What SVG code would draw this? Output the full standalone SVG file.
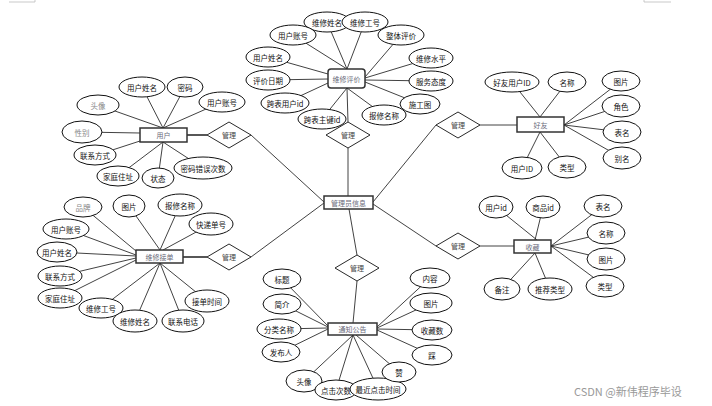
<svg xmlns="http://www.w3.org/2000/svg" width="712" height="406" viewBox="0 0 712 406">
<style>
.bg{fill:#fff}
.ln{stroke:#111;stroke-width:0.8;fill:none}
.thick{stroke:#444;stroke-width:1.8;fill:none}
.el{fill:#fff;stroke:#111;stroke-width:1}
.ent{fill:#fff;stroke:#333;stroke-width:1.5}
.dia{fill:#fff;stroke:#111;stroke-width:0.9}
text{font-family:"Noto Sans CJK SC","Noto Sans",sans-serif;text-anchor:middle;dominant-baseline:central}
.t{font-size:7.5px;fill:#111}
.g{font-size:7.5px;fill:#888}
.et{font-size:7px;fill:#6b6b7b}
.dt{font-size:7px;fill:#444}
.wm{font-size:11px;fill:#999;text-anchor:start;dominant-baseline:alphabetic}
.cm{stroke:#bbb;stroke-width:0.8;fill:none}
</style>
<rect class="bg" x="0" y="0" width="712" height="406"/>
<polyline class="cm" points="9,2 35,2 35,0"/>
<polyline class="cm" points="644,0 644,2 671,2"/>

<g id="connectors">
  <!-- admin to diamonds -->
  <line class="ln" x1="251" y1="135" x2="324" y2="202"/>
  <line class="ln" x1="251" y1="257" x2="324" y2="203"/>
  <line class="ln" x1="348" y1="148" x2="348" y2="196"/>
  <line class="ln" x1="436" y1="125" x2="373" y2="202"/>
  <line class="ln" x1="436" y1="246" x2="373" y2="204"/>
  <line class="ln" x1="357" y1="255" x2="349" y2="209"/>
  <!-- diamonds to entities -->
  <line class="thick" x1="187" y1="135" x2="207" y2="135"/>
  <line class="ln" x1="347" y1="88" x2="348" y2="122"/>
  <line class="ln" x1="517" y1="125" x2="480" y2="125"/>
  <line class="thick" x1="183" y1="257" x2="207" y2="257"/>
  <line class="ln" x1="514" y1="246" x2="480" y2="246"/>
  <line class="ln" x1="353" y1="323" x2="357" y2="281"/>
  <!-- 维修评价 attributes -->
  <line class="ln" x1="327" y1="22" x2="347" y2="69"/>
  <line class="ln" x1="365" y1="22" x2="347" y2="69"/>
  <line class="ln" x1="401" y1="35" x2="365" y2="77"/>
  <line class="ln" x1="431" y1="58" x2="365" y2="78"/>
  <line class="ln" x1="431" y1="81" x2="365" y2="80"/>
  <line class="ln" x1="420" y1="104" x2="365" y2="82"/>
  <line class="ln" x1="384" y1="115" x2="347" y2="88"/>
  <line class="ln" x1="322" y1="119" x2="347" y2="88"/>
  <line class="ln" x1="285" y1="103" x2="328" y2="83"/>
  <line class="ln" x1="268" y1="80" x2="328" y2="79"/>
  <line class="ln" x1="268" y1="57" x2="328" y2="74"/>
  <line class="ln" x1="293" y1="35" x2="347" y2="69"/>
  <!-- 用户 attributes -->
  <line class="ln" x1="98" y1="105" x2="163" y2="128"/>
  <line class="ln" x1="142" y1="87" x2="163" y2="128"/>
  <line class="ln" x1="185" y1="87" x2="163" y2="128"/>
  <line class="ln" x1="222" y1="102" x2="163" y2="128"/>
  <line class="ln" x1="82" y1="132" x2="140" y2="133"/>
  <line class="ln" x1="97" y1="155" x2="140" y2="141"/>
  <line class="ln" x1="118" y1="176" x2="163" y2="142"/>
  <line class="ln" x1="158" y1="178" x2="163" y2="142"/>
  <line class="ln" x1="203" y1="168" x2="163" y2="142"/>
  <!-- 好友 attributes -->
  <line class="ln" x1="512" y1="82" x2="540" y2="117"/>
  <line class="ln" x1="567" y1="82" x2="540" y2="117"/>
  <line class="ln" x1="621" y1="81" x2="564" y2="125"/>
  <line class="ln" x1="621" y1="106" x2="564" y2="125"/>
  <line class="ln" x1="622" y1="132" x2="564" y2="125"/>
  <line class="ln" x1="622" y1="158" x2="564" y2="125"/>
  <line class="ln" x1="522" y1="168" x2="540" y2="132"/>
  <line class="ln" x1="567" y1="167" x2="540" y2="132"/>
  <!-- 维修接单 attributes -->
  <line class="ln" x1="83" y1="207" x2="136" y2="251"/>
  <line class="ln" x1="129" y1="206" x2="160" y2="250"/>
  <line class="ln" x1="180" y1="205" x2="160" y2="250"/>
  <line class="ln" x1="211" y1="224" x2="163" y2="250"/>
  <line class="ln" x1="66" y1="229" x2="136" y2="255"/>
  <line class="ln" x1="57" y1="252" x2="136" y2="256"/>
  <line class="ln" x1="60" y1="276" x2="136" y2="258"/>
  <line class="ln" x1="60" y1="298" x2="136" y2="260"/>
  <line class="ln" x1="101" y1="308" x2="160" y2="263"/>
  <line class="ln" x1="135" y1="321" x2="160" y2="263"/>
  <line class="ln" x1="183" y1="321" x2="160" y2="263"/>
  <line class="ln" x1="207" y1="301" x2="160" y2="263"/>
  <!-- 收藏 attributes -->
  <line class="ln" x1="496" y1="207" x2="537" y2="240"/>
  <line class="ln" x1="543" y1="207" x2="535" y2="240"/>
  <line class="ln" x1="603" y1="206" x2="551" y2="246"/>
  <line class="ln" x1="606" y1="233" x2="551" y2="246"/>
  <line class="ln" x1="606" y1="259" x2="551" y2="246"/>
  <line class="ln" x1="605" y1="286" x2="551" y2="246"/>
  <line class="ln" x1="502" y1="289" x2="535" y2="253"/>
  <line class="ln" x1="550" y1="289" x2="535" y2="253"/>
  <!-- 通知公告 attributes -->
  <line class="ln" x1="282" y1="279" x2="328" y2="326"/>
  <line class="ln" x1="282" y1="304" x2="328" y2="327"/>
  <line class="ln" x1="279" y1="329" x2="328" y2="328"/>
  <line class="ln" x1="281" y1="352" x2="328" y2="329"/>
  <line class="ln" x1="304" y1="381" x2="353" y2="335"/>
  <line class="ln" x1="336" y1="390" x2="353" y2="335"/>
  <line class="ln" x1="378" y1="389" x2="353" y2="335"/>
  <line class="ln" x1="399" y1="372" x2="356" y2="335"/>
  <line class="ln" x1="432" y1="355" x2="377" y2="330"/>
  <line class="ln" x1="432" y1="330" x2="377" y2="329"/>
  <line class="ln" x1="431" y1="303" x2="377" y2="328"/>
  <line class="ln" x1="430" y1="278" x2="377" y2="327"/>
</g>

<!-- relationship diamonds -->
<g id="rel-user"><polygon class="dia" points="229,122 251,135 229,148 207,135"/><text class="dt" x="229" y="135">管理</text></g>
<g id="rel-review"><polygon class="dia" points="348,122 370,135 348,148 326,135"/><text class="dt" x="348" y="135">管理</text></g>
<g id="rel-friend"><polygon class="dia" points="458,112 480,125 458,138 436,125"/><text class="dt" x="458" y="125">管理</text></g>
<g id="rel-order"><polygon class="dia" points="229,244 251,257 229,270 207,257"/><text class="dt" x="229" y="257">管理</text></g>
<g id="rel-fav"><polygon class="dia" points="458,233 480,246 458,259 436,246"/><text class="dt" x="458" y="246">管理</text></g>
<g id="rel-notice"><polygon class="dia" points="357,255 379,268 357,281 335,268"/><text class="dt" x="357" y="268">管理</text></g>

<!-- entities -->
<g id="admin"><rect class="ent" x="324" y="196" width="49" height="13"/><text class="et" x="348.5" y="202.5">管理员信息</text></g>
<g id="user"><rect class="ent" x="140" y="128" width="47" height="14"/><text class="et" x="163.5" y="135">用户</text></g>
<g id="review"><rect class="ent" x="328" y="69" width="37" height="19" rx="3"/><text class="et" x="346.5" y="78.5">维修评价</text></g>
<g id="friend"><rect class="ent" x="517" y="117" width="47" height="15"/><text class="et" x="540.5" y="124.5">好友</text></g>
<g id="order"><rect class="ent" x="136" y="250" width="47" height="13"/><text class="et" x="159.5" y="256.5">维修接单</text></g>
<g id="fav"><rect class="ent" x="514" y="240" width="37" height="13"/><text class="et" x="532.5" y="246.5">收藏</text></g>
<g id="notice"><rect class="ent" x="328" y="323" width="49" height="12"/><text class="et" x="352.5" y="329">通知公告</text></g>

<!-- 维修评价 attributes -->
<g id="r-name"><ellipse class="el" cx="327" cy="22" rx="23" ry="10"/><text class="t" x="327" y="22">维修姓名</text></g>
<g id="r-no"><ellipse class="el" cx="365" cy="22" rx="23" ry="10"/><text class="t" x="365" y="22">维修工号</text></g>
<g id="r-overall"><ellipse class="el" cx="401" cy="35" rx="23" ry="10"/><text class="t" x="401" y="35">整体评价</text></g>
<g id="r-level"><ellipse class="el" cx="431" cy="58" rx="22" ry="10"/><text class="t" x="431" y="58">维修水平</text></g>
<g id="r-attitude"><ellipse class="el" cx="431" cy="81" rx="22" ry="10"/><text class="t" x="431" y="81">服务态度</text></g>
<g id="r-pic"><ellipse class="el" cx="420" cy="104" rx="20" ry="10"/><text class="t" x="420" y="104">施工图</text></g>
<g id="r-repair"><ellipse class="el" cx="384" cy="115" rx="22" ry="10"/><text class="t" x="384" y="115">报修名称</text></g>
<g id="r-cross-key"><ellipse class="el" cx="322" cy="119" rx="24" ry="10"/><text class="t" x="322" y="119">跨表主键id</text></g>
<g id="r-cross-user"><ellipse class="el" cx="285" cy="103" rx="24" ry="10"/><text class="t" x="285" y="103">跨表用户id</text></g>
<g id="r-date"><ellipse class="el" cx="268" cy="80" rx="22" ry="10"/><text class="t" x="268" y="80">评价日期</text></g>
<g id="r-uname"><ellipse class="el" cx="268" cy="57" rx="22" ry="10"/><text class="t" x="268" y="57">用户姓名</text></g>
<g id="r-uacc"><ellipse class="el" cx="293" cy="35" rx="23" ry="10"/><text class="t" x="293" y="35">用户账号</text></g>

<!-- 用户 attributes -->
<g id="u-avatar"><ellipse class="el" cx="98" cy="105" rx="21" ry="10"/><text class="g" x="98" y="105">头像</text></g>
<g id="u-name"><ellipse class="el" cx="142" cy="87" rx="23" ry="10"/><text class="t" x="142" y="87">用户姓名</text></g>
<g id="u-pwd"><ellipse class="el" cx="185" cy="87" rx="18" ry="10"/><text class="t" x="185" y="87">密码</text></g>
<g id="u-acc"><ellipse class="el" cx="222" cy="102" rx="23" ry="10"/><text class="t" x="222" y="102">用户账号</text></g>
<g id="u-sex"><ellipse class="el" cx="82" cy="132" rx="20" ry="11"/><text class="g" x="82" y="132">性别</text></g>
<g id="u-contact"><ellipse class="el" cx="95" cy="155" rx="21" ry="10"/><text class="t" x="95" y="155">联系方式</text></g>
<g id="u-addr"><ellipse class="el" cx="118" cy="176" rx="21" ry="10"/><text class="t" x="118" y="176">家庭住址</text></g>
<g id="u-status"><ellipse class="el" cx="158" cy="178" rx="16" ry="10"/><text class="t" x="158" y="178">状态</text></g>
<g id="u-err"><ellipse class="el" cx="203" cy="168" rx="29" ry="11"/><text class="t" x="203" y="168">密码错误次数</text></g>

<!-- 好友 attributes -->
<g id="f-fid"><ellipse class="el" cx="512" cy="82" rx="27" ry="10"/><text class="t" x="512" y="82">好友用户ID</text></g>
<g id="f-name"><ellipse class="el" cx="567" cy="82" rx="19" ry="10"/><text class="t" x="567" y="82">名称</text></g>
<g id="f-pic"><ellipse class="el" cx="621" cy="81" rx="19" ry="10"/><text class="t" x="621" y="81">图片</text></g>
<g id="f-role"><ellipse class="el" cx="621" cy="106" rx="19" ry="11"/><text class="t" x="621" y="106">角色</text></g>
<g id="f-table"><ellipse class="el" cx="622" cy="132" rx="19" ry="11"/><text class="t" x="622" y="132">表名</text></g>
<g id="f-alias"><ellipse class="el" cx="622" cy="158" rx="19" ry="11"/><text class="t" x="622" y="158">别名</text></g>
<g id="f-uid"><ellipse class="el" cx="522" cy="168" rx="20" ry="11"/><text class="t" x="522" y="168">用户ID</text></g>
<g id="f-type"><ellipse class="el" cx="567" cy="167" rx="19" ry="11"/><text class="t" x="567" y="167">类型</text></g>

<!-- 维修接单 attributes -->
<g id="o-brand"><ellipse class="el" cx="83" cy="207" rx="19" ry="10"/><text class="g" x="83" y="207">品牌</text></g>
<g id="o-pic"><ellipse class="el" cx="129" cy="206" rx="16" ry="11"/><text class="t" x="129" y="206">图片</text></g>
<g id="o-repair"><ellipse class="el" cx="180" cy="205" rx="22" ry="11"/><text class="t" x="180" y="205">报修名称</text></g>
<g id="o-express"><ellipse class="el" cx="211" cy="224" rx="22" ry="11"/><text class="t" x="211" y="224">快递单号</text></g>
<g id="o-acc"><ellipse class="el" cx="66" cy="229" rx="23" ry="10"/><text class="t" x="66" y="229">用户账号</text></g>
<g id="o-name"><ellipse class="el" cx="57" cy="252" rx="20" ry="10"/><text class="t" x="57" y="252">用户姓名</text></g>
<g id="o-contact"><ellipse class="el" cx="60" cy="276" rx="22" ry="10"/><text class="t" x="60" y="276">联系方式</text></g>
<g id="o-addr"><ellipse class="el" cx="60" cy="298" rx="22" ry="10"/><text class="t" x="60" y="298">家庭住址</text></g>
<g id="o-wno"><ellipse class="el" cx="101" cy="308" rx="22" ry="10"/><text class="t" x="101" y="308">维修工号</text></g>
<g id="o-wname"><ellipse class="el" cx="135" cy="321" rx="22" ry="11"/><text class="t" x="135" y="321">维修姓名</text></g>
<g id="o-phone"><ellipse class="el" cx="183" cy="321" rx="21" ry="11"/><text class="t" x="183" y="321">联系电话</text></g>
<g id="o-time"><ellipse class="el" cx="207" cy="301" rx="22" ry="11"/><text class="t" x="207" y="301">接单时间</text></g>

<!-- 收藏 attributes -->
<g id="c-uid"><ellipse class="el" cx="496" cy="207" rx="17" ry="11"/><text class="t" x="496" y="207">用户id</text></g>
<g id="c-gid"><ellipse class="el" cx="543" cy="207" rx="17" ry="11"/><text class="t" x="543" y="207">商品id</text></g>
<g id="c-table"><ellipse class="el" cx="603" cy="206" rx="19" ry="11"/><text class="t" x="603" y="206">表名</text></g>
<g id="c-name"><ellipse class="el" cx="606" cy="233" rx="19" ry="11"/><text class="t" x="606" y="233">名称</text></g>
<g id="c-pic"><ellipse class="el" cx="606" cy="259" rx="19" ry="11"/><text class="t" x="606" y="259">图片</text></g>
<g id="c-type"><ellipse class="el" cx="605" cy="286" rx="19" ry="11"/><text class="t" x="605" y="286">类型</text></g>
<g id="c-note"><ellipse class="el" cx="502" cy="289" rx="18" ry="11"/><text class="t" x="502" y="289">备注</text></g>
<g id="c-rec"><ellipse class="el" cx="550" cy="289" rx="22" ry="11"/><text class="t" x="550" y="289">推荐类型</text></g>

<!-- 通知公告 attributes -->
<g id="n-title"><ellipse class="el" cx="282" cy="279" rx="19" ry="10"/><text class="t" x="282" y="279">标题</text></g>
<g id="n-intro"><ellipse class="el" cx="282" cy="304" rx="19" ry="10"/><text class="t" x="282" y="304">简介</text></g>
<g id="n-cat"><ellipse class="el" cx="279" cy="329" rx="22" ry="10"/><text class="t" x="279" y="329">分类名称</text></g>
<g id="n-pub"><ellipse class="el" cx="281" cy="352" rx="19" ry="10"/><text class="t" x="281" y="352">发布人</text></g>
<g id="n-avatar"><ellipse class="el" cx="304" cy="381" rx="18" ry="11"/><text class="t" x="304" y="381">头像</text></g>
<g id="n-clicks"><ellipse class="el" cx="336" cy="390" rx="21" ry="10"/><text class="t" x="336" y="390">点击次数</text></g>
<g id="n-last"><ellipse class="el" cx="378" cy="389" rx="28" ry="11"/><text class="t" x="378" y="389">最近点击时间</text></g>
<g id="n-up"><ellipse class="el" cx="399" cy="372" rx="17" ry="10"/><text class="t" x="399" y="372">赞</text></g>
<g id="n-down"><ellipse class="el" cx="432" cy="355" rx="20" ry="10"/><text class="t" x="432" y="355">踩</text></g>
<g id="n-favs"><ellipse class="el" cx="432" cy="330" rx="20" ry="10"/><text class="t" x="432" y="330">收藏数</text></g>
<g id="n-pic"><ellipse class="el" cx="431" cy="303" rx="21" ry="10"/><text class="t" x="431" y="303">图片</text></g>
<g id="n-content"><ellipse class="el" cx="430" cy="278" rx="20" ry="10"/><text class="t" x="430" y="278">内容</text></g>

<text class="wm" x="574" y="396">CSDN @新伟程序毕设</text>
</svg>
